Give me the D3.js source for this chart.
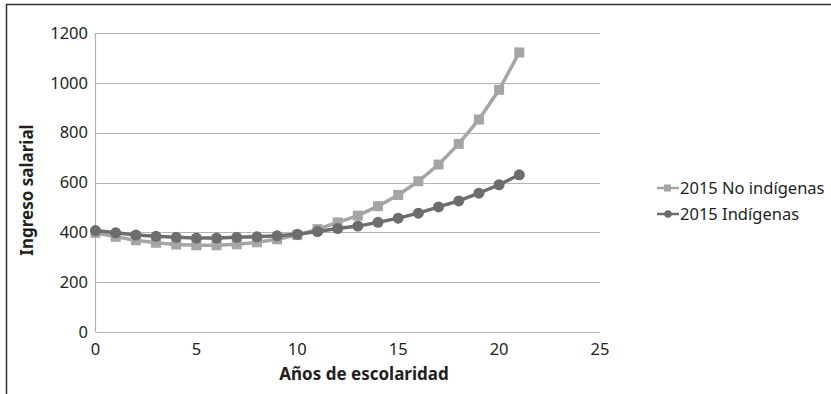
<!DOCTYPE html>
<html>
<head>
<meta charset="utf-8">
<script src="https://cdn.jsdelivr.net/npm/d3@7"></script>
<style>
  html, body { margin: 0; padding: 0; background: #fff; }
  svg { display: block; }
  text { font-family: "Noto Sans", "Open Sans", sans-serif; fill: #231f20; }
</style>
</head>
<body>
<svg id="chart" width="831" height="394"></svg>
<script>
// Years of schooling (x) and wage income for each group
const years = [0,1,2,3,4,5,6,7,8,9,10,11,12,13,14,15,16,17,18,19,20,21];
const noIndigenas = [398,382,368,358,351,348,348,352,360,372,389,413,440,467,505,550,605,672,755,853,972,1122];
const indigenas   = [407,398,389,384,380,377,377,380,382,386,392,403,415,425,440,457,477,502,526,557,591,631];
const yTicks = [0,200,400,600,800,1000,1200];
const xTicks = [0,5,10,15,20,25];
const seriesNames = ["2015 No indígenas", "2015 Indígenas"];

const svg = d3.select("#chart");

// outer frame
svg.append("rect")
  .attr("x", 6.5).attr("y", 4.5)
  .attr("width", 840).attr("height", 400)
  .attr("fill", "none").attr("stroke", "#333").attr("stroke-width", 1.5);

const x = d3.scaleLinear().domain([0, 25]).range([95.5, 600]);
const y = d3.scaleLinear().domain([0, 1200]).range([332, 33]);

// horizontal gridlines
svg.append("g")
  .selectAll("line")
  .data(yTicks)
  .join("line")
  .attr("x1", x(0)).attr("x2", x(25))
  .attr("y1", d => Math.round(y(d)) + 0.5).attr("y2", d => Math.round(y(d)) + 0.5)
  .attr("stroke", "#b3b3b3").attr("stroke-width", 1.2);

// vertical axis line
svg.append("line")
  .attr("x1", x(0)).attr("x2", x(0))
  .attr("y1", y(1200)).attr("y2", y(0))
  .attr("stroke", "#b3b3b3").attr("stroke-width", 1.2);

// y tick labels
svg.append("g")
  .selectAll("text")
  .data(yTicks)
  .join("text")
  .attr("x", 88).attr("y", d => y(d))
  .attr("dy", "0.35em")
  .attr("text-anchor", "end")
  .attr("font-size", 16.5)
  .text(d => d);

// x tick labels
svg.append("g")
  .selectAll("text")
  .data(xTicks)
  .join("text")
  .attr("x", d => x(d)).attr("y", 355)
  .attr("text-anchor", "middle")
  .attr("font-size", 16.5)
  .text(d => d);

// axis titles
svg.append("text")
  .attr("x", 364).attr("y", 380)
  .attr("text-anchor", "middle")
  .attr("font-size", 17).attr("font-weight", "bold")
  .text("Años de escolaridad");

svg.append("text")
  .attr("transform", "translate(33,190) rotate(-90)")
  .attr("text-anchor", "middle")
  .attr("font-size", 17).attr("font-weight", "bold")
  .text("Ingreso salarial");

const line = d3.line().x(d => x(d[0])).y(d => y(d[1]));
const sqData = years.map((yr, i) => [yr, noIndigenas[i]]);
const ciData = years.map((yr, i) => [yr, indigenas[i]]);
const lightGray = "#a5a5a5";
const darkGray = "#6d6d6d";

// No indígenas: squares
svg.append("path").datum(sqData)
  .attr("d", line).attr("fill", "none")
  .attr("stroke", lightGray).attr("stroke-width", 3.5);
svg.append("g").selectAll("rect")
  .data(sqData).join("rect")
  .attr("x", d => x(d[0]) - 5).attr("y", d => y(d[1]) - 5)
  .attr("width", 10).attr("height", 10)
  .attr("fill", lightGray);

// Indígenas: circles
svg.append("path").datum(ciData)
  .attr("d", line).attr("fill", "none")
  .attr("stroke", darkGray).attr("stroke-width", 3.5);
svg.append("g").selectAll("circle")
  .data(ciData).join("circle")
  .attr("cx", d => x(d[0])).attr("cy", d => y(d[1]))
  .attr("r", 5.5)
  .attr("fill", darkGray);

// legend
const legend = svg.append("g");
const legendRows = [
  { name: seriesNames[0], color: lightGray, shape: "square", yy: 188 },
  { name: seriesNames[1], color: darkGray, shape: "circle", yy: 214 }
];
legendRows.forEach(r => {
  legend.append("line")
    .attr("x1", 657).attr("x2", 679)
    .attr("y1", r.yy).attr("y2", r.yy)
    .attr("stroke", r.color).attr("stroke-width", 2.5);
  if (r.shape === "square") {
    legend.append("rect").attr("x", 664).attr("y", r.yy - 3.5)
      .attr("width", 7).attr("height", 7).attr("fill", r.color);
  } else {
    legend.append("circle").attr("cx", 668).attr("cy", r.yy)
      .attr("r", 3.8).attr("fill", r.color);
  }
  legend.append("text")
    .attr("x", 680).attr("y", r.yy).attr("dy", "0.35em")
    .attr("font-size", 16.5)
    .text(r.name);
});
</script>
</body>
</html>
